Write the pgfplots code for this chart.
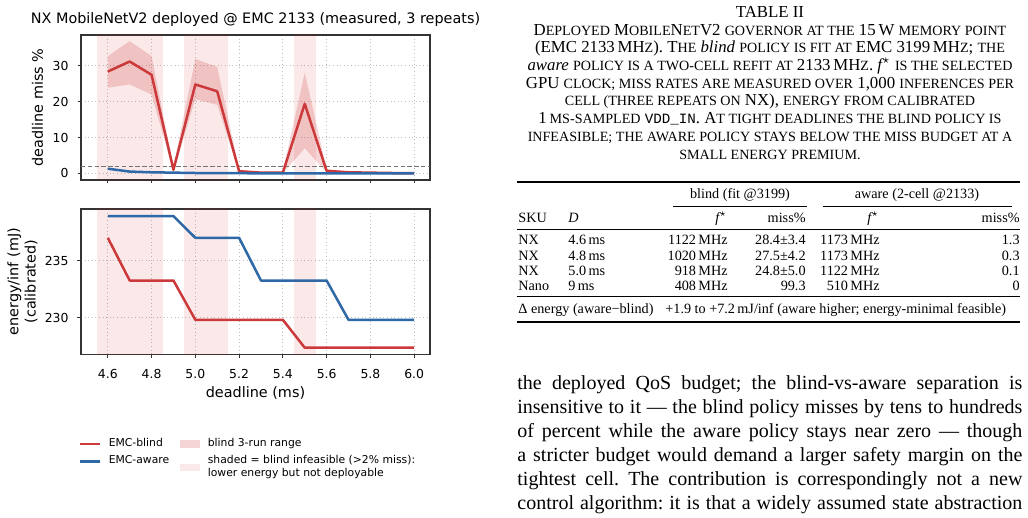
\documentclass[border=0pt]{standalone}
\usepackage{fontspec}
\setmainfont{Liberation Serif}
\setmonofont{Liberation Mono}
\newfontfamily\dejavu{DejaVu Sans}
\usepackage{pgfplots}
\pgfplotsset{compat=1.18}
\usepackage{pgfplotstable}
\usepgfplotslibrary{fillbetween}
\frenchspacing

\definecolor{cblind}{RGB}{204,57,59}
\definecolor{caware}{RGB}{46,104,166}
\definecolor{cspan}{RGB}{214,39,40}

\newcommand\ticksize{\dejavu\fontsize{6.2pt}{7.2pt}\selectfont}
\newcommand\labsize{\dejavu\fontsize{7.2pt}{8.6pt}\selectfont}
\newcommand\legsize{\dejavu\fontsize{5.4pt}{6.1pt}\selectfont}
\newcommand\capfont{\fontsize{8.4pt}{9pt}\selectfont}
\newcommand\sm[1]{{\fontsize{7.05pt}{9pt}\selectfont\MakeUppercase{#1}}}
\newcommand\tabfont{\fontsize{7.1pt}{8pt}\selectfont}
\newcommand\bodyfont{\fontsize{10pt}{12pt}\selectfont}
\newcommand\fstar{$\textit{f}^{\star}$}

% miss rate per deadline: blind mean, 3-run min/max, aware
\pgfplotstableread{
d    blind lo   hi   aware
4.6  28.4  23.9 32.7 1.3
4.7  31.2  24.8 36.9 0.5
4.8  27.5  22.0 32.7 0.3
4.9  1.0   0.5  1.8  0.2
5.0  24.8  20.7 31.9 0.1
5.1  22.9  19.1 29.7 0.1
5.2  0.6   0.3  1.0  0.05
5.3  0.2   0.0  0.4  0.0
5.4  0.2   0.0  0.4  0.0
5.5  19.4  7.0  28.1 0.0
5.6  0.7   0.3  1.2  0.0
5.7  0.3   0.1  0.5  0.0
5.8  0.2   0.1  0.3  0.0
5.9  0.1   0.0  0.2  0.0
6.0  0.1   0.0  0.2  0.0
}\missdata

% calibrated energy per inference (mJ)
\pgfplotstableread{
d    blind  aware
4.6  237.0  238.9
4.7  233.25 238.9
4.8  233.25 238.9
4.9  233.25 238.9
5.0  229.8  237.0
5.1  229.8  237.0
5.2  229.8  237.0
5.3  229.8  233.25
5.4  229.8  233.25
5.5  227.35 233.25
5.6  227.35 233.25
5.7  227.35 229.8
5.8  227.35 229.8
5.9  227.35 229.8
6.0  227.35 229.8
}\energydata

\pgfplotsset{
  panel/.style={
    scale only axis, width=174.5pt,
    xmin=4.4775, xmax=6.0725,
    xtick={4.6,4.8,5.0,5.2,5.4,5.6,5.8,6.0},
    axis line style={black!80, line width=0.6pt},
    every tick/.style={black!80, line width=0.45pt},
    tick align=outside, major tick length=1.75pt,
    tick pos=left,
    grid=major,
    major grid style={dash pattern=on 0.5pt off 1.3pt, black!25, line width=0.4pt},
    tick label style={font=\ticksize},
    label style={font=\labsize},
    /pgf/number format/assume math mode=true,
    xticklabel style={yshift=-2.25pt, /pgf/number format/fixed, /pgf/number format/fixed zerofill, /pgf/number format/precision=1},
    yticklabel style={xshift=-1pt},
  },
  blindline/.style={color=cblind, line width=1.25pt, line join=round},
  awareline/.style={color=caware, line width=1.25pt, line join=round},
  infspan/.style={draw=none, fill=cspan, fill opacity=0.1, forget plot},
  lineleg/.style={legend image code/.code={\draw[##1] (0pt,0pt) -- (10pt,0pt);}},
  lineleghi/.style={legend image code/.code={\draw[##1] (0pt,3.05pt) -- (10pt,3.05pt);}},
  patchleg/.style={legend image code/.code={\fill[##1] (0pt,-1.9pt) rectangle (10pt,1.9pt);}},
}

\begin{document}
\begin{tikzpicture}

% ---- miss-rate panel ----
\begin{axis}[panel, at={(40.5pt,-17.5pt)}, anchor=north west, height=72.5pt,
  ymin=-1.85, ymax=38.6, ytick={0,10,20,30},
  xticklabels={},
  title={NX MobileNetV2 deployed @ EMC 2133 (measured, 3 repeats)},
  title style={font=\labsize, at={(axis description cs:0.5,1)}, anchor=base, yshift=-0.5pt},
  ylabel={deadline miss \%},
  ylabel style={at={(axis description cs:-0.1246,0.5)}, anchor=center},
]
\addplot[infspan] coordinates {(4.55,-10) (4.85,-10) (4.85,50) (4.55,50)} -- cycle;
\addplot[infspan] coordinates {(4.95,-10) (5.15,-10) (5.15,50) (4.95,50)} -- cycle;
\addplot[infspan] coordinates {(5.45,-10) (5.55,-10) (5.55,50) (5.45,50)} -- cycle;
\addplot[name path=hi, draw=none, forget plot] table[x=d, y=hi]{\missdata};
\addplot[name path=lo, draw=none, forget plot] table[x=d, y=lo]{\missdata};
\addplot[fill=cblind, fill opacity=0.22, draw=none, forget plot] fill between[of=hi and lo];
\addplot[black!55, dash pattern=on 2.2pt off 1.2pt, line width=0.5pt, forget plot] coordinates {(4.4775,2) (6.0725,2)};
\addplot[blindline] table[x=d, y=blind]{\missdata};
\addplot[awareline] table[x=d, y=aware]{\missdata};
\end{axis}

% ---- energy panel ----
\begin{axis}[panel, at={(40.5pt,-104.5pt)}, anchor=north west, height=72.65pt,
  ymin=226.77, ymax=239.53, ytick={230,235},
  xlabel={deadline (ms)},
  xlabel style={at={(axis description cs:0.5,0)}, anchor=base, yshift=-21.5pt},
  ylabel={energy/inf (mJ)\\(calibrated)},
  ylabel style={align=center, at={(axis description cs:-0.1676,0.5)}, anchor=center},
  legend columns=2,
  legend style={at={(axis description cs:-0.009,-0.549)}, anchor=north west,
    draw=none, fill=none, font=\legsize, inner sep=0pt,
    cells={anchor=west, align=left},
    /tikz/every odd column/.append style={column sep=2pt},
    /tikz/every even column/.append style={column sep=3.3pt},
    row sep=-1pt},
]
\addplot[infspan] coordinates {(4.55,200) (4.85,200) (4.85,260) (4.55,260)} -- cycle;
\addplot[infspan] coordinates {(4.95,200) (5.15,200) (5.15,260) (4.95,260)} -- cycle;
\addplot[infspan] coordinates {(5.45,200) (5.55,200) (5.55,260) (5.45,260)} -- cycle;
\addplot[blindline, forget plot] table[x=d, y=blind]{\energydata};
\addplot[awareline, forget plot] table[x=d, y=aware]{\energydata};
\addlegendimage{blindline, lineleg}
\addlegendentry{EMC-blind}
\addlegendimage{patchleg, fill=cblind, fill opacity=0.22, draw=none}
\addlegendentry{blind 3-run range}
\addlegendimage{awareline, lineleghi}
\addlegendentry{EMC-aware\\\phantom{l}}
\addlegendimage{patchleg, fill=cspan, fill opacity=0.1, draw=none}
\addlegendentry{shaded = blind infeasible (>2\% miss):\\lower energy but not deployable}
\end{axis}

% ---- table caption ----
\begin{scope}[every node/.style={inner sep=0pt, anchor=base}]
\node at (385pt,-8.75pt) {\capfont TABLE II};
\node at (385pt,-17.6pt) {\capfont D\sm{eployed} M\sm{obile}N\sm{et}V2 \sm{governor at the} 15\,W \sm{memory point}};
\node at (385pt,-26.45pt) {\capfont (EMC 2133\,MH\sm{z}). T\sm{he} \textit{blind} \sm{policy is fit at} EMC 3199\,MH\sm{z}; \sm{the}};
\node at (385pt,-35.3pt) {\capfont \textit{aware} \sm{policy is a two-cell refit at} 2133\,MH\sm{z}. \fstar\ \sm{is the selected}};
\node at (385pt,-44.15pt) {\capfont GPU \sm{clock; miss rates are measured over} 1,000 \sm{inferences per}};
\node at (385pt,-53pt) {\capfont \sm{cell (three repeats on} NX), \sm{energy from calibrated}};
\node at (385pt,-61.85pt) {\capfont 1\,\sm{ms-sampled} {\ttfamily\fontsize{7.1pt}{9pt}\selectfont VDD\_IN}. A\sm{t tight deadlines the blind policy is}};
\node at (385pt,-70.7pt) {\capfont \sm{infeasible; the aware policy stays below the miss budget at a}};
\node at (385pt,-79.55pt) {\capfont \sm{small energy premium.}};
\end{scope}

% ---- table body ----
\draw[line width=0.7pt] (258.5pt,-91pt) -- (510pt,-91pt);
\draw[line width=0.35pt] (336.5pt,-103pt) -- (403.35pt,-103pt);
\draw[line width=0.35pt] (411.5pt,-103pt) -- (505.85pt,-103pt);
\draw[line width=0.4pt] (258.5pt,-114.5pt) -- (510pt,-114.5pt);
\draw[line width=0.4pt] (258.5pt,-148.15pt) -- (510pt,-148.15pt);
\draw[line width=0.7pt] (258.5pt,-161pt) -- (510pt,-161pt);
\begin{scope}[every node/.style={inner sep=0pt}]
\node[anchor=base] at (370pt,-99.1pt) {\tabfont blind (fit @3199)};
\node[anchor=base] at (458.5pt,-99.1pt) {\tabfont aware (2-cell @2133)};
\node[anchor=base west] at (259pt,-111.25pt) {\tabfont SKU};
\node[anchor=base west] at (284pt,-111.25pt) {\tabfont \textit{D}};
\node[anchor=base east] at (364pt,-111.25pt) {\tabfont \fstar};
\node[anchor=base east] at (403pt,-111.25pt) {\tabfont miss\%};
\node[anchor=base east] at (440pt,-111.25pt) {\tabfont \fstar};
\node[anchor=base east] at (510pt,-111.25pt) {\tabfont miss\%};
% rows
\foreach \y/\sku/\dl/\fb/\mb/\fa/\ma in {
  122.5/NX/4.6/1122/28.4±3.4/1173/1.3,
  130.1/NX/4.8/1020/27.5±4.2/1173/0.3,
  137.7/NX/5.0/918/24.8±5.0/1122/0.1,
  145.3/Nano/9/408/99.3/510/0}{
  \node[anchor=base west] at (259pt,-\y pt) {\tabfont \sku};
  \node[anchor=base west] at (284pt,-\y pt) {\tabfont \dl\,ms};
  \node[anchor=base east] at (364pt,-\y pt) {\tabfont \fb\,MHz};
  \node[anchor=base east] at (403pt,-\y pt) {\tabfont \mb};
  \node[anchor=base east] at (440pt,-\y pt) {\tabfont \fa\,MHz};
  \node[anchor=base east] at (510pt,-\y pt) {\tabfont \ma};
}
\node[anchor=base west] at (259pt,-156.75pt) {\tabfont Δ energy (aware−blind)};
\node[anchor=base west] at (332.5pt,-156.75pt) {\tabfont +1.9 to +7.2\,mJ/inf (aware higher; energy-minimal feasible)};
\end{scope}

% ---- running text ----
\begin{scope}[every node/.style={inner sep=0pt, anchor=base west}]
\node at (258.5pt,-194.75pt) {\bodyfont\makebox[252.5pt][s]{the deployed QoS budget; the blind-vs-aware separation is}};
\node at (258.5pt,-206.75pt) {\bodyfont\makebox[252.5pt][s]{insensitive to it — the blind policy misses by tens to hundreds}};
\node at (258.5pt,-218.75pt) {\bodyfont\makebox[252.5pt][s]{of percent while the aware policy stays near zero — though}};
\node at (258.5pt,-230.75pt) {\bodyfont\makebox[252.5pt][s]{a stricter budget would demand a larger safety margin on the}};
\node at (258.5pt,-242.75pt) {\bodyfont\makebox[252.5pt][s]{tightest cell. The contribution is correspondingly not a new}};
\node at (258.5pt,-254.75pt) {\bodyfont\makebox[252.5pt][s]{control algorithm: it is that a widely assumed state abstraction}};
\end{scope}

% page frame
\pgfresetboundingbox
\useasboundingbox (0pt,0pt) rectangle (514pt,-259pt);
\end{tikzpicture}
\end{document}
